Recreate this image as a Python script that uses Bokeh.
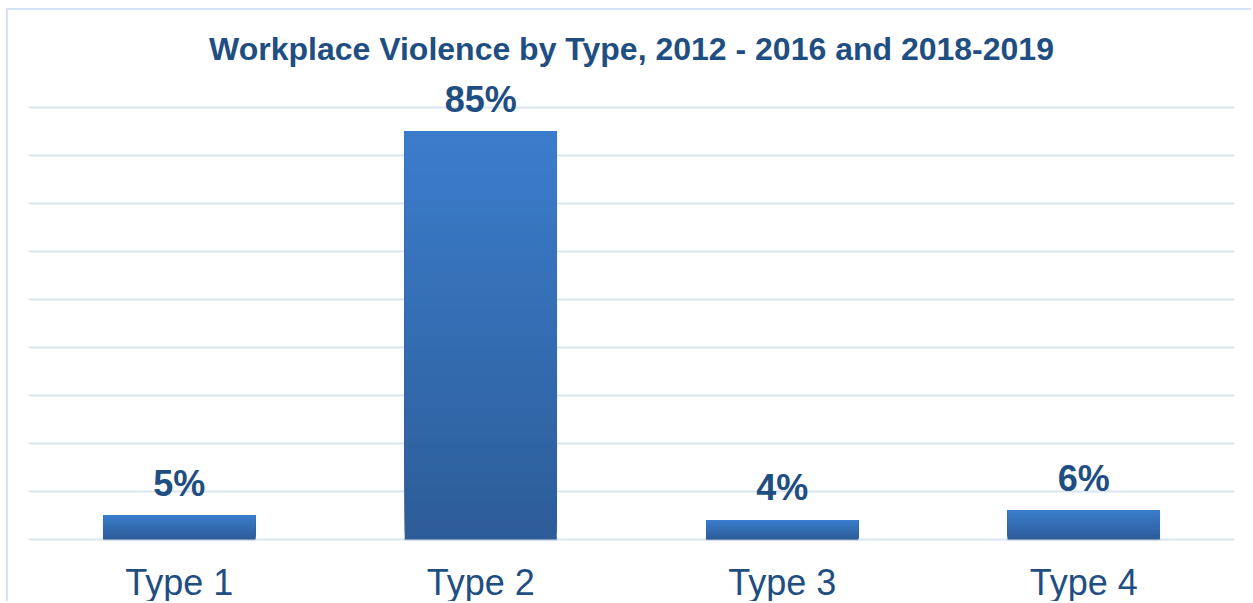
from bokeh.plotting import figure
from bokeh.models import ColumnDataSource, LabelSet, FactorRange, Label
from bokeh.core.properties import value
from bokeh.embed import file_html
from bokeh.resources import INLINE

categories = ["Type 1", "Type 2", "Type 3", "Type 4"]
shares = [5, 85, 4, 6]
labels = ["5%", "85%", "4%", "6%"]

TITLE = "Workplace Violence by Type, 2012 - 2016 and 2018-2019"
DARK = "#1f4e82"
TOP_COL = (0x3b, 0x7d, 0xcc)
BOT_COL = (0x2d, 0x5c, 0x98)
GRID = "#dae5f3"
PX = 4.8            # pixels per percentage point
BASE = 529          # baseline position from top of canvas
H = 593

p = figure(x_range=FactorRange(*categories),
           y_range=(-(H - BASE) / PX, BASE / PX),
           width=1245, height=H, output_backend="svg", toolbar_location=None,
           min_border_left=20, min_border_right=19, min_border_top=0, min_border_bottom=0)
p.styles = {"margin-left": "6px", "margin-top": "8px",
            "border-left": "2px solid #d5e3f4", "border-top": "2px solid #d5e3f4"}

p.outline_line_color = None
p.background_fill_color = "white"
p.border_fill_color = "white"

p.xgrid.grid_line_color = None
p.ygrid.grid_line_color = GRID
p.ygrid.grid_line_width = 2
p.ygrid.ticker = list(range(0, 100, 10))
p.xaxis.visible = False
p.yaxis.visible = False

# subtle shadow
p.vbar(x=categories, top=shares, width=0.508, bottom=-0.3,
       fill_color="#aab3bf", fill_alpha=0.3, line_color=None)

# gradient bars: nested slices, dark at bottom, light at top
N = 60
xs, bots, tops, cols = [], [], [], []
for c, v in zip(categories, shares):
    for i in range(N):
        t = (i + 0.5) / N
        rgb = tuple(int(round(b + (a - b) * t)) for a, b in zip(TOP_COL, BOT_COL))
        xs.append(c)
        bots.append(v * i / N)
        tops.append(v)
        cols.append("#%02x%02x%02x" % rgb)
src = ColumnDataSource(dict(x=xs, bottom=bots, top=tops, color=cols))
p.vbar(x="x", bottom="bottom", top="top", width=0.504, fill_color="color",
       line_color=None, source=src)

lsrc = ColumnDataSource(dict(x=categories, y=shares, text=labels))
p.add_layout(LabelSet(x="x", y="y", text="text", source=lsrc, y_offset=20,
                      text_align="center", text_baseline="alphabetic",
                      text_font=value("Liberation Sans"), text_font_style="bold",
                      text_font_size="36px", text_color=DARK))

csrc = ColumnDataSource(dict(x=categories, y=[0] * len(categories), text=categories))
p.add_layout(LabelSet(x="x", y="y", text="text", source=csrc, y_offset=-55,
                      text_align="center", text_baseline="alphabetic",
                      text_font=value("Liberation Sans"),
                      text_font_size="36px", text_color=DARK))

p.add_layout(Label(x=len(categories) / 2, y=491 / PX, text=TITLE,
                   text_align="center", text_baseline="alphabetic",
                   text_font="Liberation Sans", text_font_style="bold",
                   text_font_size="32px", text_color=DARK))

open("out.html", "w").write(file_html(p, INLINE))
